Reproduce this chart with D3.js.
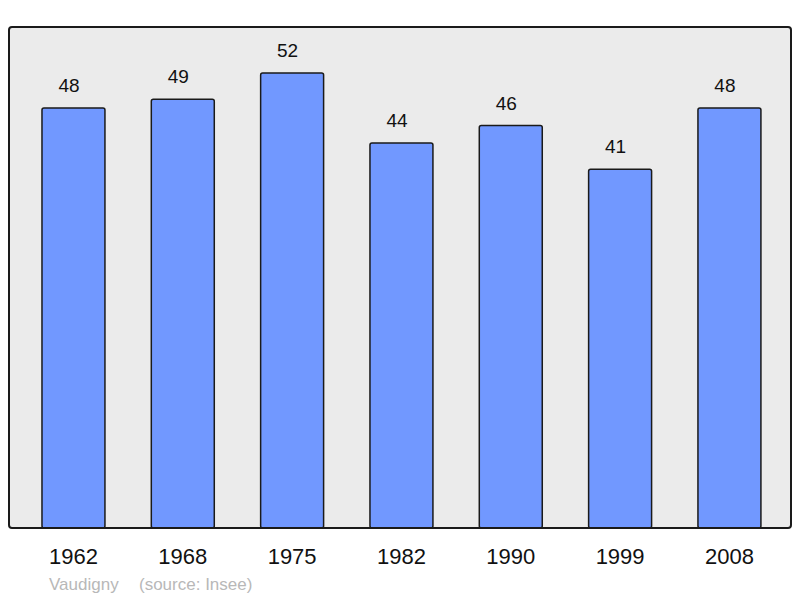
<!DOCTYPE html>
<html>
<head>
<meta charset="utf-8">
<script src="https://cdn.jsdelivr.net/npm/d3@7"></script>
<style>
  body { margin: 0; background: #fff; }
  svg { display: block; font-family: "Liberation Sans", Arial, sans-serif; }
</style>
</head>
<body>
<svg id="chart" width="800" height="598"></svg>
<script>
// chart data
const years = ['1962', '1968', '1975', '1982', '1990', '1999', '2008'];
const population = [48, 49, 52, 44, 46, 41, 48];
const place = 'Vaudigny';
const source = '(source: Insee)';

const svg = d3.select('#chart');

// frame of the plot
const frame = { left: 9, top: 27, right: 791, bottom: 528 };

let x = d3.scaleBand()
    .domain(years)
    .range([18.8, 784.1])
    .paddingInner(0.424)
    .paddingOuter(0.212);

let y = d3.scaleLinear()
    .domain([0, 57.26])
    .range([frame.bottom, frame.top]);

// background panel
svg.append('rect')
    .attr('x', frame.left)
    .attr('y', frame.top)
    .attr('width', frame.right - frame.left)
    .attr('height', frame.bottom - frame.top)
    .attr('rx', 3)
    .attr('fill', '#ebebeb');

// bars
const data = years.map((yr, i) => ({ year: yr, value: population[i] }));

svg.append('g')
    .selectAll('rect')
    .data(data)
    .enter()
    .append('rect')
    .attr('x', d => x(d.year))
    .attr('y', d => y(d.value))
    .attr('width', x.bandwidth())
    .attr('height', d => y(0) - y(d.value))
    .attr('rx', 2)
    .attr('fill', '#7198ff')
    .attr('stroke', '#1a1a1a')
    .attr('stroke-width', 1.5);

// value labels above bars (sit a little left of the bar centre)
svg.append('g')
    .selectAll('text')
    .data(data)
    .enter()
    .append('text')
    .attr('x', d => x(d.year) + x.bandwidth() / 2 - 4.5)
    .attr('y', d => y(d.value) - 16)
    .attr('text-anchor', 'middle')
    .attr('font-size', 19)
    .attr('fill', '#111')
    .text(d => d.value);

// frame outline drawn on top
svg.append('rect')
    .attr('x', frame.left)
    .attr('y', frame.top)
    .attr('width', frame.right - frame.left)
    .attr('height', frame.bottom - frame.top)
    .attr('rx', 3)
    .attr('fill', 'none')
    .attr('stroke', '#1a1a1a')
    .attr('stroke-width', 2);

// year labels
const axis = d3.axisBottom(x).tickSize(0).tickPadding(0);
const gx = svg.append('g')
    .attr('transform', 'translate(0,' + frame.bottom + ')')
    .call(axis);
gx.select('.domain').remove();
gx.selectAll('text')
    .attr('y', 36)
    .attr('dy', 0)
    .attr('font-size', 22)
    .attr('font-family', '"Liberation Sans", Arial, sans-serif')
    .attr('fill', '#111');

// caption
svg.append('text')
    .attr('x', 49)
    .attr('y', 590)
    .attr('font-size', 17)
    .attr('fill', '#b8b8b8')
    .text(place);
svg.append('text')
    .attr('x', 139)
    .attr('y', 590)
    .attr('font-size', 17)
    .attr('fill', '#b8b8b8')
    .text(source);
</script>
</body>
</html>
